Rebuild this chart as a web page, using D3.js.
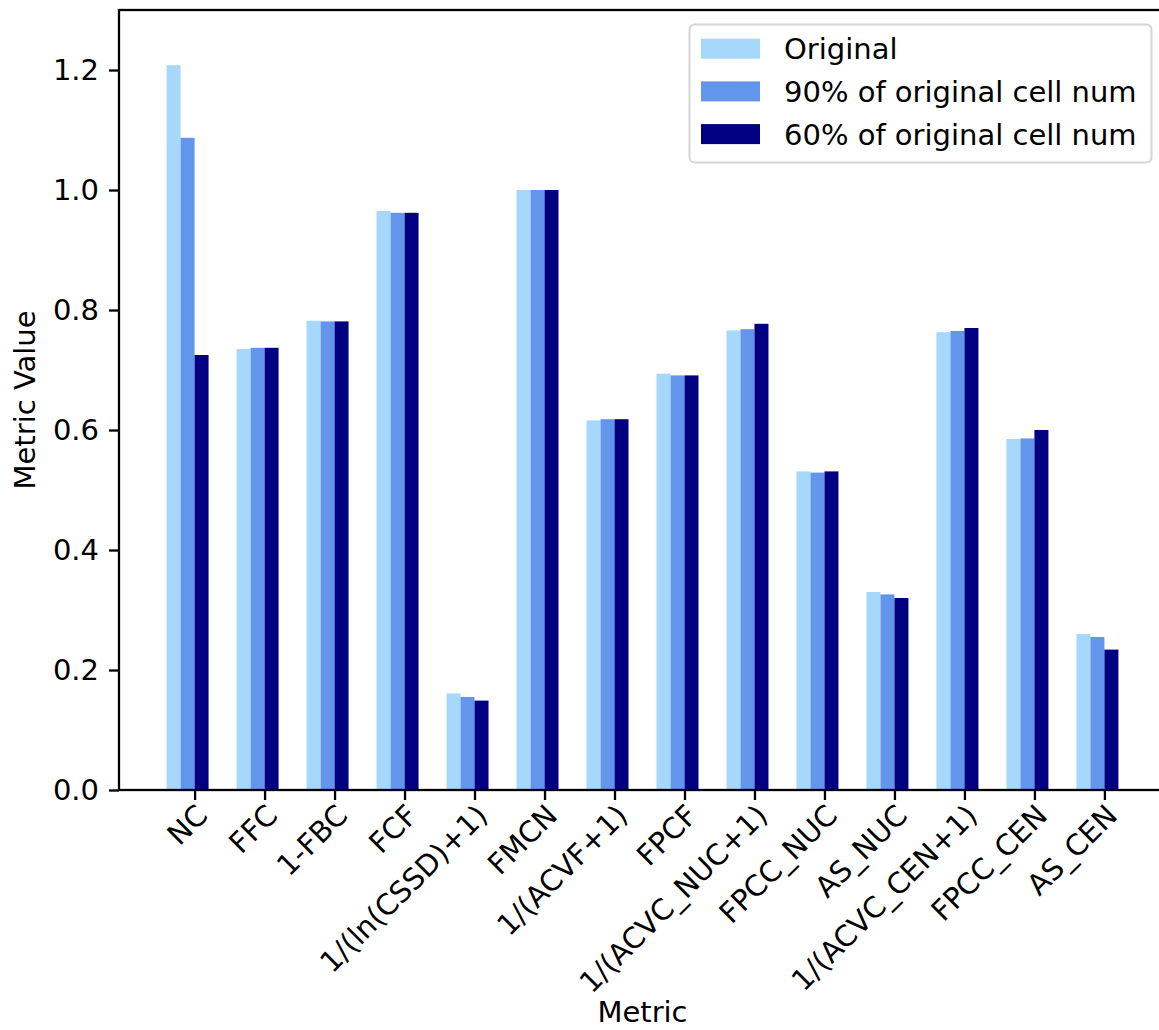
<!DOCTYPE html>
<html>
<head>
<meta charset="utf-8">
<script src="https://cdn.jsdelivr.net/npm/d3@7"></script>
<style>
  html, body { margin: 0; padding: 0; background: #ffffff; }
  svg { display: block; font-family: "DejaVu Sans", sans-serif; }
</style>
</head>
<body>
<svg id="chart" width="1159" height="1030"></svg>
<script>
// Metric names along the x axis
const categories = ["NC", "FFC", "1-FBC", "FCF", "1/(ln(CSSD)+1)", "FMCN", "1/(ACVF+1)",
  "FPCF", "1/(ACVC_NUC+1)", "FPCC_NUC", "AS_NUC", "1/(ACVC_CEN+1)", "FPCC_CEN", "AS_CEN"];

// Metric values for each cell-count condition
const originalValues = [1.208, 0.735, 0.782, 0.965, 0.161, 1.000, 0.616, 0.694, 0.766, 0.531, 0.330, 0.763, 0.585, 0.260];
const pct90Values    = [1.087, 0.737, 0.781, 0.962, 0.155, 1.000, 0.618, 0.691, 0.768, 0.529, 0.326, 0.765, 0.586, 0.255];
const pct60Values    = [0.725, 0.737, 0.781, 0.962, 0.149, 1.000, 0.618, 0.691, 0.777, 0.531, 0.320, 0.770, 0.600, 0.234];

const seriesNames  = ["Original", "90% of original cell num", "60% of original cell num"];
const seriesColors = ["#a6d8fc", "#6495ed", "#000080"];
const yTicks = [0.0, 0.2, 0.4, 0.6, 0.8, 1.0, 1.2];

const series = [originalValues, pct90Values, pct60Values].map((vals, k) => ({
  name: seriesNames[k], color: seriesColors[k], values: vals
}));

const FS = 29;           // base font size
const barW = 0.2;        // bar width in category units
const plot = { left: 119, right: 1166, top: 10, bottom: 790 };

const svg = d3.select("#chart");

const x = d3.scaleLinear().domain([-1.08, 13.88]).range([plot.left, plot.right]);
const y = d3.scaleLinear().domain([0, 1.3]).range([plot.bottom, plot.top]);

// Bars: three per metric, the last one starting at the tick position
const groups = svg.append("g").selectAll("g")
  .data(series).join("g")
  .attr("fill", d => d.color);

groups.each(function(s, k) {
  d3.select(this).selectAll("rect")
    .data(s.values).join("rect")
    .attr("x", (v, i) => x(i - 2 * barW + k * barW))
    .attr("width", (v, i) => x(i - barW + k * barW) - x(i - 2 * barW + k * barW))
    .attr("y", v => y(v))
    .attr("height", v => y(0) - y(v));
});

// Y axis
const yAxis = svg.append("g")
  .attr("transform", `translate(${plot.left},0)`)
  .call(d3.axisLeft(y).tickValues(yTicks).tickFormat(d3.format(".1f")).tickSize(10).tickPadding(10));
yAxis.select(".domain").remove();
yAxis.selectAll(".tick line").attr("stroke", "#000").attr("stroke-width", 2.3);
yAxis.selectAll(".tick text").attr("font-size", FS).attr("fill", "#000")
  .attr("font-family", "DejaVu Sans");

// X axis with labels rotated about their top-right corner
const xAxis = svg.append("g")
  .attr("transform", `translate(0,${plot.bottom})`)
  .call(d3.axisBottom(x).tickValues(d3.range(categories.length))
    .tickFormat(i => categories[i]).tickSize(10).tickPadding(10));
xAxis.select(".domain").remove();
xAxis.selectAll(".tick line").attr("stroke", "#000").attr("stroke-width", 2.3);
xAxis.selectAll(".tick text")
  .attr("font-size", FS).attr("fill", "#000").attr("font-family", "DejaVu Sans")
  .attr("text-anchor", "end")
  .attr("x", 0).attr("y", 0).attr("dy", "0.74em")
  .attr("transform", "translate(-1,12) rotate(-45)");

// Frame around the plotting area
svg.append("rect")
  .attr("x", plot.left).attr("y", plot.top)
  .attr("width", plot.right - plot.left).attr("height", plot.bottom - plot.top)
  .attr("fill", "none").attr("stroke", "#000").attr("stroke-width", 2.3);

// Axis titles
svg.append("text")
  .attr("x", (plot.left + plot.right) / 2).attr("y", 1022)
  .attr("text-anchor", "middle").attr("font-size", FS).text("Metric");

svg.append("text")
  .attr("transform", `translate(35,${(plot.top + plot.bottom) / 2}) rotate(-90)`)
  .attr("text-anchor", "middle").attr("font-size", FS).text("Metric Value");

// Legend
const legend = svg.append("g");
legend.append("rect")
  .attr("x", 689.5).attr("y", 24.5).attr("width", 462).attr("height", 138)
  .attr("rx", 5).attr("ry", 5)
  .attr("fill", "#ffffff").attr("fill-opacity", 0.8)
  .attr("stroke", "#d5d5d5").attr("stroke-width", 2);

const rows = legend.selectAll("g.row").data(series).join("g")
  .attr("class", "row")
  .attr("transform", (d, i) => `translate(0,${48.7 + i * 42.7})`);
rows.append("rect")
  .attr("x", 701).attr("y", -10).attr("width", 59).attr("height", 20)
  .attr("fill", d => d.color);
rows.append("text")
  .attr("x", 784).attr("y", 0).attr("dy", "0.36em")
  .attr("font-size", FS).attr("fill", "#000")
  .text(d => d.name);
</script>
</body>
</html>
